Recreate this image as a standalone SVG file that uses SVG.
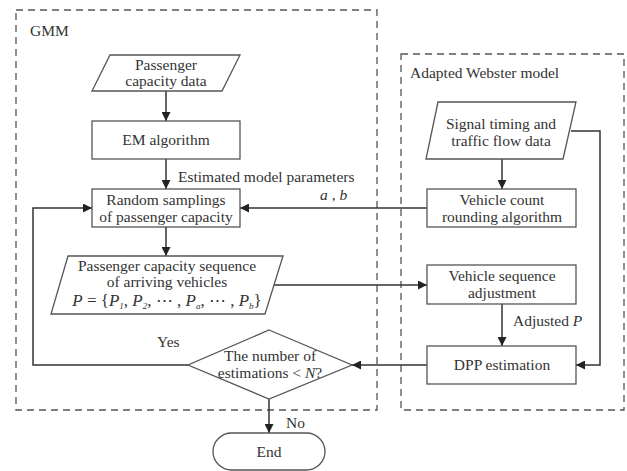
<svg xmlns="http://www.w3.org/2000/svg" width="627" height="471" viewBox="0 0 627 471">
  <style>
    .t { font-family: "Liberation Serif", "DejaVu Serif", "Noto Serif", serif; font-size: 15.5px; fill: #333; }
    .it { font-style: italic; }
    .sub { font-size: 9px; font-style: italic; }
    .shape { fill: #fff; stroke: #555; stroke-width: 1.3; }
    .region { fill: none; stroke: #555; stroke-width: 1.3; stroke-dasharray: 7 5; }
    .edge { fill: none; stroke: #333; stroke-width: 1.5; }
  </style>
  <defs>
    <marker id="ah" viewBox="0 0 10 10" refX="10" refY="5" markerWidth="9" markerHeight="9" markerUnits="userSpaceOnUse" orient="auto">
      <path d="M0,0 L10,5 L0,10 z" fill="#222"/>
    </marker>
  </defs>
  <rect width="627" height="471" fill="#fff"/>

  <!-- dashed regions -->
  <g id="gmm-region">
    <rect class="region" x="16" y="10" width="361" height="400"/>
    <text class="t" x="30" y="36">GMM</text>
  </g>
  <g id="webster-region">
    <rect class="region" x="401" y="54" width="223" height="356"/>
    <text class="t" x="410" y="78">Adapted Webster model</text>
  </g>

  <!-- connectors -->
  <g id="connectors">
    <line class="edge" x1="166" y1="91" x2="166" y2="121" marker-end="url(#ah)"/>
    <line class="edge" x1="166" y1="159" x2="166" y2="189" marker-end="url(#ah)"/>
    <line class="edge" x1="166" y1="227" x2="166" y2="256" marker-end="url(#ah)"/>
    <line class="edge" x1="427" y1="208" x2="240" y2="208" marker-end="url(#ah)"/>
    <line class="edge" x1="502" y1="159" x2="502" y2="189" marker-end="url(#ah)"/>
    <polyline class="edge" points="571,131 600,131 600,365 576,365" marker-end="url(#ah)"/>
    <line class="edge" x1="274" y1="285" x2="427" y2="285" marker-end="url(#ah)"/>
    <line class="edge" x1="502" y1="304" x2="502" y2="346" marker-end="url(#ah)"/>
    <line class="edge" x1="427" y1="365" x2="352" y2="365" marker-end="url(#ah)"/>
    <polyline class="edge" points="188,365 33,365 33,208 92,208" marker-end="url(#ah)"/>
    <line class="edge" x1="269" y1="399" x2="269" y2="433" marker-end="url(#ah)"/>
    <text class="t" x="178" y="182">Estimated model parameters</text>
    <text class="t it" x="320" y="200">a<tspan font-style="normal"> , </tspan>b</text>
    <text class="t" x="513" y="326">Adjusted <tspan class="it">P</tspan></text>
    <text class="t" x="157" y="347">Yes</text>
    <text class="t" x="286" y="428">No</text>
  </g>

  <!-- nodes -->
  <g id="passenger-data">
    <polygon class="shape" points="110,55 240,55 222,91 92,91"/>
    <text class="t" x="166" y="70" text-anchor="middle">Passenger</text>
    <text class="t" x="166" y="86" text-anchor="middle">capacity data</text>
  </g>
  <g id="em-algorithm">
    <rect class="shape" x="92" y="121" width="148" height="38"/>
    <text class="t" x="166" y="145" text-anchor="middle">EM algorithm</text>
  </g>
  <g id="random-sampling">
    <rect class="shape" x="92" y="189" width="148" height="38"/>
    <text class="t" x="166" y="205" text-anchor="middle">Random samplings</text>
    <text class="t" x="166" y="222" text-anchor="middle">of passenger capacity</text>
  </g>
  <g id="signal-data">
    <polygon class="shape" points="438,102 576,102 563,159 426,159"/>
    <text class="t" x="501" y="129" text-anchor="middle">Signal timing and</text>
    <text class="t" x="501" y="146" text-anchor="middle">traffic flow data</text>
  </g>
  <g id="vehicle-count">
    <rect class="shape" x="427" y="189" width="149" height="38"/>
    <text class="t" x="502" y="205" text-anchor="middle">Vehicle count</text>
    <text class="t" x="502" y="222" text-anchor="middle">rounding algorithm</text>
  </g>
  <g id="capacity-sequence">
    <polygon class="shape" points="68,256 283,256 265,314 51,314"/>
    <text class="t" x="167" y="271" text-anchor="middle">Passenger capacity sequence</text>
    <text class="t" x="167" y="287" text-anchor="middle">of arriving vehicles</text>
    <text class="t" x="167" y="306" text-anchor="middle" style="font-size:17px"><tspan class="it">P</tspan> = {<tspan class="it">P</tspan><tspan class="sub" dy="3">1</tspan><tspan dy="-3">, </tspan><tspan class="it">P</tspan><tspan class="sub" dy="3">2</tspan><tspan dy="-3">, ⋯ , </tspan><tspan class="it">P</tspan><tspan class="sub" dy="3">a</tspan><tspan dy="-3">, ⋯ , </tspan><tspan class="it">P</tspan><tspan class="sub" dy="3">b</tspan><tspan dy="-3">}</tspan></text>
  </g>
  <g id="vehicle-sequence">
    <rect class="shape" x="427" y="265" width="149" height="39"/>
    <text class="t" x="502" y="281" text-anchor="middle">Vehicle sequence</text>
    <text class="t" x="502" y="298" text-anchor="middle">adjustment</text>
  </g>
  <g id="dpp-estimation">
    <rect class="shape" x="427" y="346" width="149" height="38"/>
    <text class="t" x="502" y="370" text-anchor="middle">DPP estimation</text>
  </g>
  <g id="decision">
    <polygon class="shape" points="269,330 352,365 269,399 188,365"/>
    <text class="t" x="270" y="361" text-anchor="middle">The number of</text>
    <text class="t" x="270" y="378" text-anchor="middle">estimations &lt; <tspan class="it">N</tspan>?</text>
  </g>
  <g id="end">
    <rect class="shape" x="213" y="433" width="112" height="37" rx="18.5"/>
    <text class="t" x="269" y="457" text-anchor="middle">End</text>
  </g>
</svg>
